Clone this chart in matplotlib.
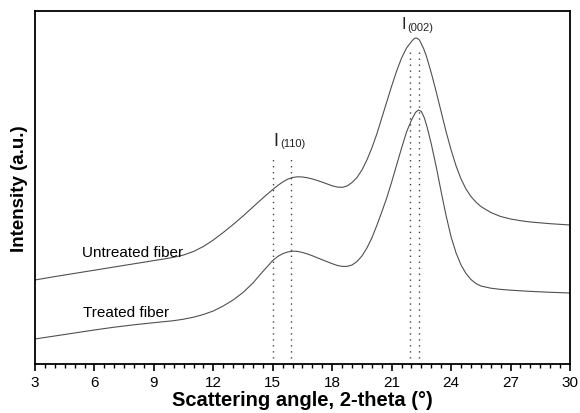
import matplotlib
matplotlib.use("Agg")
import matplotlib.pyplot as plt
from matplotlib.ticker import MultipleLocator

plt.rcParams['font.family'] = ['Liberation Sans', 'DejaVu Sans']

# Untreated fiber XRD profile (2-theta, intensity a.u.)
untreated_x = [3.0, 3.5, 4.0, 4.5, 5.0, 5.5, 6.0, 6.5, 7.0, 7.5, 8.0, 8.5, 9.0, 9.5,
               10.0, 10.5, 11.0, 11.5, 12.0, 12.5, 13.0, 13.5, 14.0, 14.5, 15.0, 15.25,
               15.5, 15.75, 16.0, 16.25, 16.5, 16.75, 17.0, 17.25, 17.5, 17.75, 18.0,
               18.25, 18.5, 18.75, 19.0, 19.25, 19.5, 19.75, 20.0, 20.25, 20.5, 20.75,
               21.0, 21.25, 21.5, 21.75, 22.0, 22.1, 22.2, 22.3, 22.4, 22.6, 22.75,
               23.0, 23.25, 23.5, 23.75, 24.0, 24.25, 24.5, 24.75, 25.0, 25.25, 25.5,
               26.0, 26.5, 27.0, 27.5, 28.0, 29.0, 30.0]
untreated_y = [84, 85.7, 87.4, 89.0, 90.6, 92.2, 93.8, 95.4, 97.0, 98.6, 100.2, 101.8, 103.4, 105.0,
               106.7, 109, 112.5, 117.5, 124, 131.5, 139.5, 148, 157, 166, 174.5, 178.5,
               182, 184.8, 186.5, 187.2, 187, 186.2, 185, 183.5, 181.8, 180, 178.2,
               177, 176.6, 178, 181.5, 186.5, 194, 204, 216, 230, 246, 262,
               278, 293, 306, 316, 322.5, 324.8, 326, 325.6, 324, 316, 308,
               291, 272, 252, 232, 214, 198, 185, 175, 167.5, 162, 157.5,
               151.5, 147.5, 145, 143.3, 142, 140.3, 139]

# Treated fiber XRD profile
treated_x = [3.0, 4.0, 5.0, 6.0, 7.0, 8.0, 9.0, 10.0, 10.5, 11.0, 11.5, 12.0, 12.5,
             13.0, 13.5, 14.0, 14.5, 15.0, 15.25, 15.5, 15.75, 16.0, 16.25, 16.5, 16.75,
             17.0, 17.25, 17.5, 17.75, 18.0, 18.25, 18.5, 18.75, 19.0, 19.25, 19.5,
             19.75, 20.0, 20.25, 20.5, 20.75, 21.0, 21.25, 21.5, 21.75, 22.0, 22.2,
             22.35, 22.5, 22.65, 22.8, 23.0, 23.25, 23.5, 23.75, 24.0, 24.25, 24.5,
             24.75, 25.0, 25.25, 25.5, 26.0, 26.5, 27.0, 28.0, 29.0, 30.0]
treated_y = [25, 28, 31, 34, 36.8, 39.2, 41.3, 43.3, 44.8, 46.8, 49.5, 53, 58,
             64, 71.5, 81, 92.5, 103.5, 107.5, 110.3, 112, 112.8, 112.6, 111.5, 110,
             108.2, 106.2, 104.2, 102.2, 100.3, 98.6, 97.6, 97.6, 99, 102.5, 108,
             116, 126, 138.5, 152, 166, 182, 199, 216, 232, 244, 251.5,
             254, 252.5, 246, 236, 220, 197, 172, 148, 127, 111, 99,
             90.5, 84.5, 80.5, 78, 75.8, 74.6, 73.8, 72.6, 71.7, 71]

# Reference peak positions (dotted lines) and their heights
peak110_x = [15.0, 15.9]
peak110_top = 207
peak002_x = [21.9, 22.4]
peak002_top = 315

fig = plt.figure(figsize=(5.8, 4.14), dpi=100)
ax = fig.add_axes([0.0603, 0.1184, 0.9225, 0.8526])

line_color = '#505050'
ax.plot(untreated_x, untreated_y, color=line_color, lw=0.8)
ax.plot(treated_x, treated_y, color=line_color, lw=0.8)

for xv in peak110_x:
    ax.vlines(xv, 0, peak110_top, colors='#444444', linestyles=(0, (1, 3.3)), lw=1.0)
for xv in peak002_x:
    ax.vlines(xv, 0, peak002_top, colors='#444444', linestyles=(0, (1, 3.3)), lw=1.0)

ax.set_xlim(3, 30)
ax.set_ylim(0, 353)
ax.xaxis.set_major_locator(MultipleLocator(3))
ax.xaxis.set_minor_locator(MultipleLocator(0.5))
ax.tick_params(axis='x', which='major', direction='out', length=5, width=1.2,
               labelsize=11, pad=3, top=False)
ax.tick_params(axis='x', which='minor', direction='out', length=3, width=1.0, top=False)
ax.set_yticks([])
for s in ax.spines.values():
    s.set_linewidth(1.3)

ax.set_xlabel('Scattering angle, 2-theta (°)', fontsize=14.5, fontweight='bold', labelpad=1)
ax.set_ylabel('Intensity (a.u.)', fontsize=13.5, fontweight='bold', labelpad=5)

ax.text(5.37, 108, 'Untreated fiber', fontsize=11, ha='left', va='baseline')
ax.text(5.42, 48, 'Treated fiber', fontsize=11, ha='left', va='baseline')

ax.text(15.15, 219, 'I', fontsize=13, ha='center', va='baseline', color='#222222')
ax.text(15.4, 218, '(110)', fontsize=8, ha='left', va='baseline', color='#222222')
ax.text(21.6, 336, 'I', fontsize=12, ha='center', va='baseline', color='#222222')
ax.text(21.8, 334, '(002)', fontsize=8, ha='left', va='baseline', color='#222222')

fig.savefig('out.png', dpi=100)
